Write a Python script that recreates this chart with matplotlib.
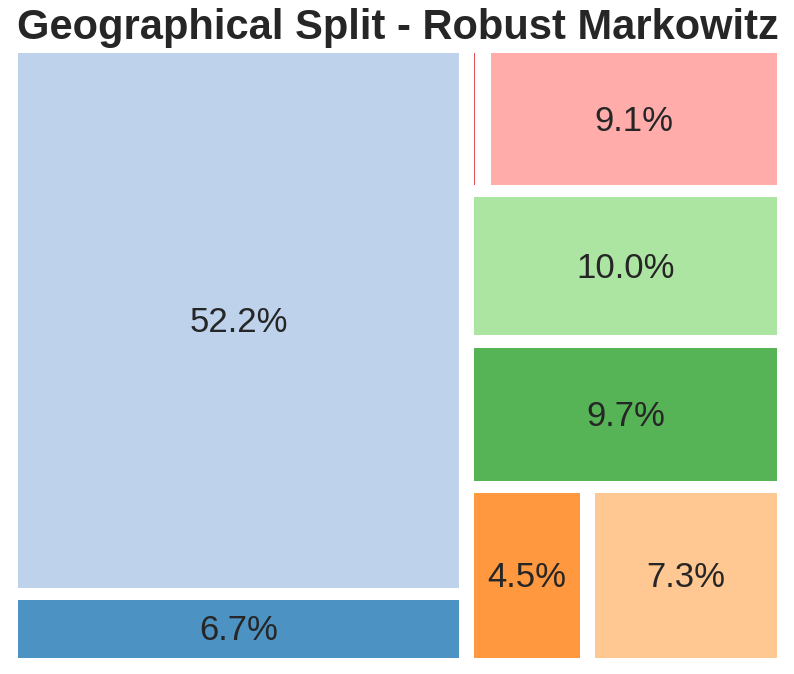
import matplotlib
matplotlib.use("Agg")
import matplotlib.pyplot as plt

values = [6.7, 52.2, 4.5, 7.3, 9.7, 10.0, 0.5, 9.1]
labels = ["6.7%", "52.2%", "4.5%", "7.3%", "9.7%", "10.0%", "", "9.1%"]
colors = ["#1f77b4", "#aec7e8", "#ff7f0e", "#ffbb78",
          "#2ca02c", "#98df8a", "#d62728", "#ff9896"]
title = "Geographical Split - Robust Markowitz"

NX, NY = 100.0, 100.0


def normalize(sizes, dx, dy):
    tot = sum(sizes)
    return [s * dx * dy / tot for s in sizes]


def layoutrow(sizes, x, y, dx, dy):
    w = sum(sizes) / dy
    out = []
    for s in sizes:
        out.append([x, y, w, s / w])
        y += s / w
    return out


def layoutcol(sizes, x, y, dx, dy):
    h = sum(sizes) / dx
    out = []
    for s in sizes:
        out.append([x, y, s / h, h])
        x += s / h
    return out


def layout(sizes, x, y, dx, dy):
    return layoutrow(sizes, x, y, dx, dy) if dx >= dy else layoutcol(sizes, x, y, dx, dy)


def leftover(sizes, x, y, dx, dy):
    if dx >= dy:
        w = sum(sizes) / dy
        return x + w, y, dx - w, dy
    h = sum(sizes) / dx
    return x, y + h, dx, dy - h


def worst(sizes, x, y, dx, dy):
    return max(max(r[2] / r[3], r[3] / r[2]) for r in layout(sizes, x, y, dx, dy))


def squarify(sizes, x, y, dx, dy):
    if not sizes:
        return []
    if len(sizes) == 1:
        return layout(sizes, x, y, dx, dy)
    i = 1
    while i < len(sizes) and worst(sizes[:i], x, y, dx, dy) >= worst(sizes[:i + 1], x, y, dx, dy):
        i += 1
    cur, rem = sizes[:i], sizes[i:]
    lx, ly, ldx, ldy = leftover(cur, x, y, dx, dy)
    return layout(cur, x, y, dx, dy) + squarify(rem, lx, ly, ldx, ldy)


rects = squarify(normalize(values, NX, NY), 0.0, 0.0, NX, NY)
for r in rects:
    if r[2] > 2:
        r[0] += 1
        r[2] -= 2
    if r[3] > 2:
        r[1] += 1
        r[3] -= 2

fig = plt.figure(figsize=(7.94, 6.74), dpi=100)
ax = fig.add_axes([10.4 / 794, (674 - 664.2) / 674, 774.2 / 794, 617 / 674])
for (x, y, dx, dy), c, lab in zip(rects, colors, labels):
    ax.bar(x, dy, width=dx, bottom=y, color=c, alpha=0.8, align="edge", linewidth=0)
    if lab:
        ax.text(x + dx / 2, y + dy / 2 - 0.3, lab, ha="center", va="center",
                fontsize=25, color="#262626", family=["Liberation Sans", "DejaVu Sans"])
ax.set_xlim(0, NX)
ax.set_ylim(0, NY)
ax.axis("off")
fig.text(0.5 * (18 + 777) / 794, 1 - 28 / 674, title, ha="center", va="center",
         fontsize=30, fontweight="bold", color="#262626",
         family=["Liberation Sans", "DejaVu Sans"])
fig.savefig("out.png", dpi=100)
